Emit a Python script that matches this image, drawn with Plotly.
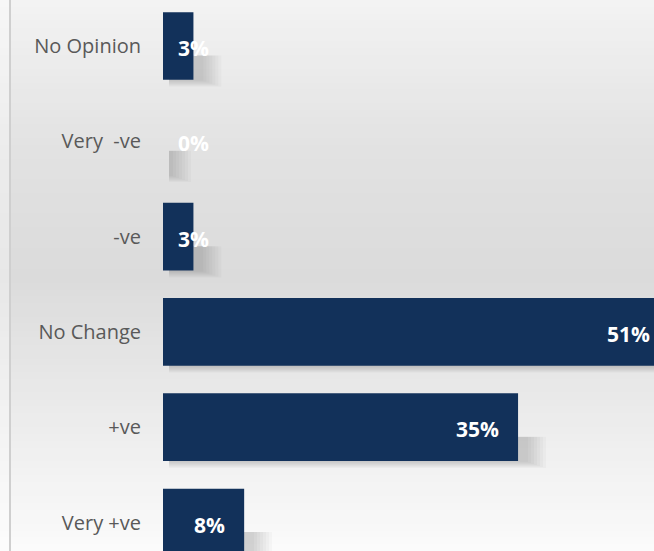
import plotly.graph_objects as go

# Survey responses, listed top to bottom
categories = ["No Opinion", "Very \u00a0-ve", "-ve", "No Change", "+ve", "Very +ve"]
values = [3, 0, 3, 51, 35, 8]
labels = ["3%", "0%", "3%", "51%", "35%", "8%"]

W, H = 654, 551
PLOT_LEFT = 163
X_MAX = 48.4
BAR_W = 0.71
ppu = (W - PLOT_LEFT) / X_MAX          # pixels per percentage point
cat_px = 95.3                           # pixels per category slot

BAR_COLOR = "#12315a"
LABEL_FONT = dict(family="Open Sans", size=21, color="white")
LABEL_W = 40

fig = go.Figure()

# soft drop shadow: stacked translucent layers offset right/down behind each bar
for k in range(1, 8):
    ext = (1 + 3.0 * k) / ppu
    drop = (1.0 * k) / cat_px
    fig.add_trace(go.Bar(
        y=categories, x=[v + ext for v in values], base=6 / ppu,
        orientation="h", width=BAR_W / 2 - 0.1 + drop,
        offset=0.1, marker=dict(color="rgba(0,0,0,0.022)", line_width=0),
        hoverinfo="skip", showlegend=False,
    ))

# main bars
fig.add_trace(go.Bar(
    y=categories, x=values, orientation="h", width=BAR_W,
    marker=dict(color=BAR_COLOR, line_width=0),
    showlegend=False,
))

# value labels: inside the bar end, or just after the axis for narrow bars
for cat, v, t in zip(categories, values, labels):
    end_px = min(v * ppu, W - PLOT_LEFT + 15)
    if end_px < LABEL_W + 34:
        fig.add_annotation(x=0, y=cat, text=f"<b>{t}</b>", showarrow=False,
                           xanchor="left", xshift=13, yshift=-2, font=LABEL_FONT)
    else:
        fig.add_annotation(x=(end_px - 17) / ppu, y=cat, text=f"<b>{t}</b>",
                           showarrow=False, xanchor="right", yshift=-2,
                           font=LABEL_FONT)

# vertical background gradient (light – grey – light)
stops = [(0.0, 243), (0.27, 226), (0.5, 219), (0.73, 234), (1.0, 251)]


def grey_at(f):
    for (f0, g0), (f1, g1) in zip(stops, stops[1:]):
        if f0 <= f <= f1:
            return g0 + (g1 - g0) * (f - f0) / (f1 - f0)
    return stops[-1][1]


shapes = []
n = 80
for i in range(n):
    g = round(grey_at((i + 0.5) / n))
    shapes.append(dict(type="rect", xref="paper", yref="paper", layer="below",
                       x0=0, x1=1, y0=1 - (i + 1) / n - 0.002, y1=1 - i / n,
                       line_width=0, fillcolor=f"rgb({g},{g},{g})"))
shapes.append(dict(type="rect", xref="paper", yref="paper", layer="below",
                   x0=0, x1=9 / W, y0=0, y1=1, line_width=0,
                   fillcolor="rgba(255,255,255,0.35)"))
shapes.append(dict(type="line", xref="paper", yref="paper", layer="below",
                   x0=10 / W, x1=10 / W, y0=0, y1=1,
                   line=dict(color="#cfcfcf", width=2)))

fig.update_layout(
    width=W, height=H,
    margin=dict(l=0, r=0, t=0, b=0),
    paper_bgcolor="white", plot_bgcolor="rgba(0,0,0,0)",
    barmode="overlay",
    shapes=shapes,
    xaxis=dict(domain=[PLOT_LEFT / W, 1], range=[0, X_MAX], visible=False,
               fixedrange=True),
    yaxis=dict(categoryorder="array", categoryarray=categories,
               range=[(H - 46) / cat_px, -46 / cat_px],
               showgrid=False, zeroline=False, showline=False,
               ticks="", ticklabelstandoff=21,
               tickfont=dict(family="Open Sans", size=20, color="#595959"),
               fixedrange=True),
)

fig.write_html("out.html")
